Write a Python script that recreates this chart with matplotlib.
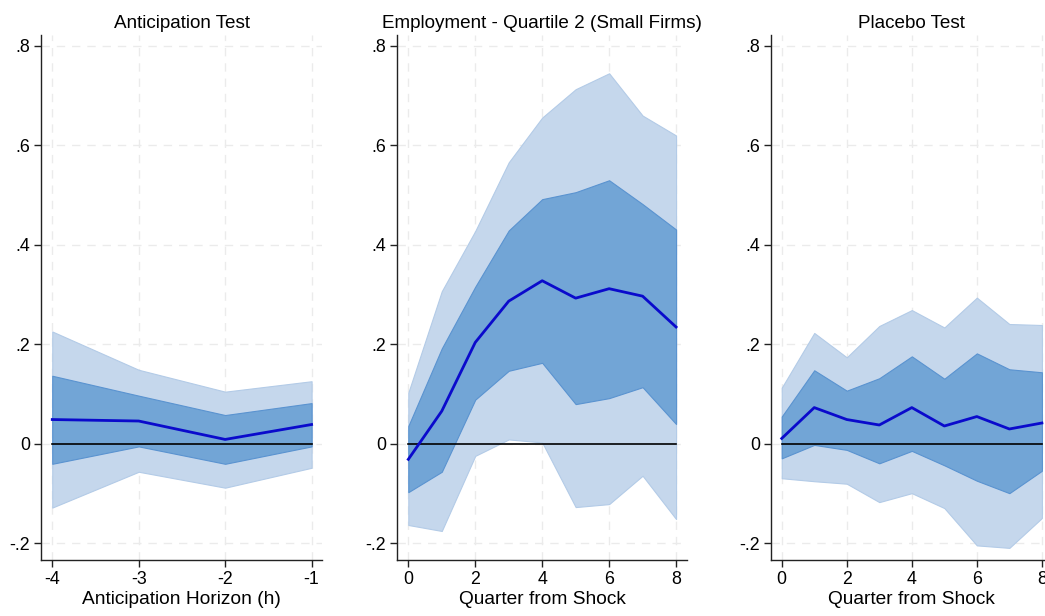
import matplotlib
matplotlib.use("Agg")
import matplotlib.pyplot as plt
import numpy as np

plt.rcParams['font.family'] = ['Liberation Sans', 'DejaVu Sans']

# Panel 1: Anticipation Test
x1 = [-4, -3, -2, -1]
mean1 = [0.049, 0.046, 0.009, 0.039]
in_hi1 = [0.137, 0.097, 0.058, 0.082]
in_lo1 = [-0.040, -0.005, -0.040, -0.005]
out_hi1 = [0.226, 0.149, 0.105, 0.126]
out_lo1 = [-0.128, -0.056, -0.088, -0.048]

# Panel 2: Employment - Quartile 2 (Small Firms)
x2 = [0, 1, 2, 3, 4, 5, 6, 7, 8]
mean2 = [-0.031, 0.066, 0.204, 0.287, 0.328, 0.293, 0.312, 0.297, 0.235]
in_hi2 = [0.036, 0.192, 0.316, 0.429, 0.492, 0.506, 0.530, 0.482, 0.431]
in_lo2 = [-0.097, -0.056, 0.089, 0.147, 0.163, 0.080, 0.092, 0.114, 0.040]
out_hi2 = [0.103, 0.307, 0.428, 0.566, 0.656, 0.713, 0.745, 0.660, 0.620]
out_lo2 = [-0.163, -0.175, -0.024, 0.009, 0.003, -0.127, -0.121, -0.064, -0.151]

# Panel 3: Placebo Test
x3 = [0, 1, 2, 3, 4, 5, 6, 7, 8]
mean3 = [0.011, 0.073, 0.049, 0.038, 0.073, 0.036, 0.055, 0.030, 0.042]
in_hi3 = [0.055, 0.148, 0.107, 0.132, 0.176, 0.131, 0.182, 0.150, 0.144]
in_lo3 = [-0.029, -0.002, -0.012, -0.039, -0.014, -0.043, -0.074, -0.099, -0.054]
out_hi3 = [0.113, 0.223, 0.174, 0.237, 0.269, 0.234, 0.294, 0.241, 0.239]
out_lo3 = [-0.069, -0.075, -0.080, -0.117, -0.099, -0.129, -0.204, -0.209, -0.149]

titles = ["Anticipation Test", "Employment - Quartile 2 (Small Firms)", "Placebo Test"]
xlabels = ["Anticipation Horizon (h)", "Quarter from Shock", "Quarter from Shock"]
yticks = [-0.2, 0, 0.2, 0.4, 0.6, 0.8]
yticklabels = ["-.2", "0", ".2", ".4", ".6", ".8"]
xticks_list = [[-4, -3, -2, -1], [0, 2, 4, 6, 8], [0, 2, 4, 6, 8]]

panels = [
    (x1, mean1, in_hi1, in_lo1, out_hi1, out_lo1),
    (x2, mean2, in_hi2, in_lo2, out_hi2, out_lo2),
    (x3, mean3, in_hi3, in_lo3, out_hi3, out_lo3),
]

fig = plt.figure(figsize=(10.45, 6.16), dpi=100)
bottom = 0.0904
height = 0.8528
positions = [
    [0.0395, bottom, 0.2686, height],
    [0.3802, bottom, 0.2770, height],
    [0.7378, bottom, 0.2695, height],
]
xlims = [(-4.127, -0.88), (-0.329, 8.32), (-0.33, 8.33)]

light = "#c5d7ec"
mid = "#72a5d6"
mid_edge = "#5a93d0"
line_c = "#0a0acc"

for i, (x, m, ih, il, oh, ol) in enumerate(panels):
    ax = fig.add_axes(positions[i])
    ax.fill_between(x, ol, oh, color=light, edgecolor="#b3cbe7", linewidth=0.8, zorder=2)
    ax.fill_between(x, il, ih, color=mid, edgecolor=mid_edge, linewidth=0.8, zorder=3)
    ax.plot([x[0], x[-1]], [0, 0], color="black", linewidth=1.2, zorder=4)
    ax.plot(x, m, color=line_c, linewidth=2.0, zorder=5)
    ax.set_xlim(*xlims[i])
    ax.set_ylim(-0.234, 0.822)
    ax.set_yticks(yticks)
    ax.set_yticklabels(yticklabels)
    ax.set_xticks(xticks_list[i])
    ax.set_xticklabels([str(t) for t in xticks_list[i]])
    ax.grid(True, color="#ebebeb", linestyle=(0, (6, 5)), linewidth=1.0, zorder=0)
    ax.set_axisbelow(True)
    for s in ["top", "right"]:
        ax.spines[s].set_visible(False)
    for s in ["left", "bottom"]:
        ax.spines[s].set_linewidth(1.0)
        ax.spines[s].set_color("#222222")
    ax.tick_params(axis="both", labelsize=12.8, length=5, width=1.0, color="#222222", pad=3)
    ax.set_title(titles[i], fontsize=13.6, pad=5)
    ax.set_xlabel(xlabels[i], fontsize=13.8, labelpad=2)

fig.savefig("out.png", dpi=100)
